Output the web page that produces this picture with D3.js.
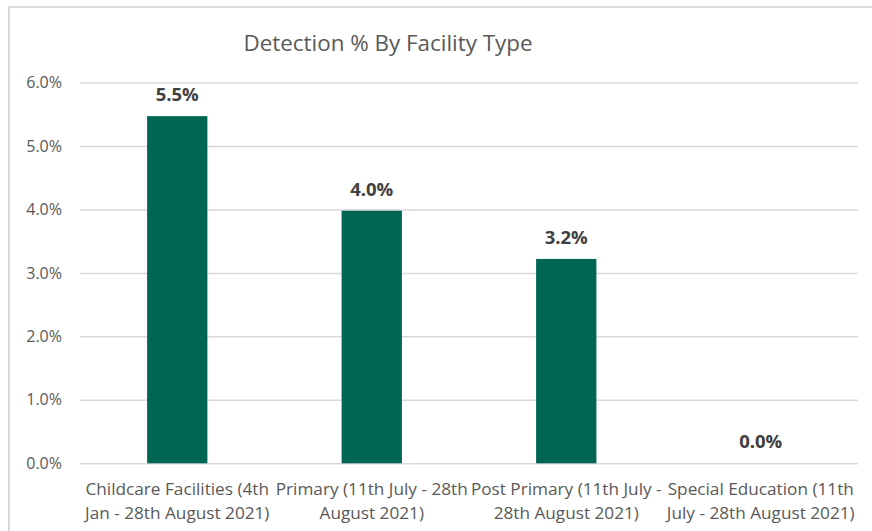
<!DOCTYPE html>
<html>
<head>
  <meta charset="utf-8">
  <title>Detection % By Facility Type</title>
  <style type="text/css">
    body { margin: 0; background: #fff; }
    text { font-family: "Open Sans", "Noto Sans", sans-serif; }
  </style>
</head>
<body>
  <svg width="872" height="531"></svg>
  <script src="https://d3js.org/d3.v7.min.js"></script>
  <script>
  // data
  let categories = [
    "Childcare Facilities (4th Jan - 28th August 2021)",
    "Primary (11th July - 28th August 2021)",
    "Post Primary (11th July - 28th August 2021)",
    "Special Education (11th July - 28th August 2021)"
  ];
  let categoryLines = [
    ["Childcare Facilities (4th", "Jan - 28th August 2021)"],
    ["Primary (11th July - 28th", "August 2021)"],
    ["Post Primary (11th July -", "28th August 2021)"],
    ["Special Education (11th", "July - 28th August 2021)"]
  ];
  let detection = [5.47, 3.98, 3.22, 0.0];
  let labels = ["5.5%", "4.0%", "3.2%", "0.0%"];
  let yTicks = [0, 1, 2, 3, 4, 5, 6];

  let svg = d3.select("svg");

  // chart border
  svg.append("rect")
    .attr("x", 9).attr("y", 7)
    .attr("width", 900).attr("height", 600)
    .attr("fill", "none")
    .attr("stroke", "#d9d9d9")
    .attr("stroke-width", 2);

  let x = d3.scaleBand()
    .domain(categories)
    .range([80, 858])
    .paddingInner(0.69)
    .paddingOuter(0.345);

  let y = d3.scaleLinear()
    .domain([0, 6])
    .range([463.3, 82.5]);

  // title
  svg.append("text")
    .attr("x", 388)
    .attr("y", 51)
    .attr("text-anchor", "middle")
    .attr("font-size", 22.4)
    .attr("fill", "#595959")
    .text("Detection % By Facility Type");

  // grid + y labels
  let yAxis = d3.axisLeft(y)
    .tickValues(yTicks)
    .tickSize(-(858 - 80))
    .tickPadding(18)
    .tickFormat(d => d.toFixed(1) + "%");

  let ga = svg.append("g")
    .attr("transform", "translate(80,0)")
    .call(yAxis);
  ga.select(".domain").remove();
  ga.selectAll(".tick line")
    .attr("stroke", "#d9d9d9")
    .attr("stroke-width", 1.5);
  ga.selectAll(".tick text")
    .attr("font-size", 16)
    .attr("font-family", "'Open Sans', sans-serif")
    .attr("fill", "#595959");

  // bars
  svg.selectAll(".bar")
    .data(detection)
    .enter()
    .append("rect")
    .attr("class", "bar")
    .attr("x", (d, i) => x(categories[i]))
    .attr("y", d => y(d))
    .attr("width", x.bandwidth())
    .attr("height", d => y(0) - y(d))
    .attr("fill", "#006654");

  // data labels
  svg.selectAll(".dlabel")
    .data(detection)
    .enter()
    .append("text")
    .attr("class", "dlabel")
    .attr("x", (d, i) => x(categories[i]) + x.bandwidth() / 2)
    .attr("y", d => y(d) - 15)
    .attr("text-anchor", "middle")
    .attr("font-size", 18.5)
    .attr("font-weight", "bold")
    .attr("fill", "#404040")
    .text((d, i) => labels[i]);

  // category labels
  let cl = svg.selectAll(".clabel")
    .data(categories)
    .enter()
    .append("text")
    .attr("class", "clabel")
    .attr("text-anchor", "middle")
    .attr("font-size", 17.2)
    .attr("fill", "#595959");

  cl.selectAll("tspan")
    .data((d, i) => categoryLines[i].map(t => ({ t: t, c: d })))
    .enter()
    .append("tspan")
    .attr("x", d => x(d.c) + x.bandwidth() / 2)
    .attr("y", (d, j) => 495 + j * 23.5)
    .text(d => d.t);
  </script>
</body>
</html>
